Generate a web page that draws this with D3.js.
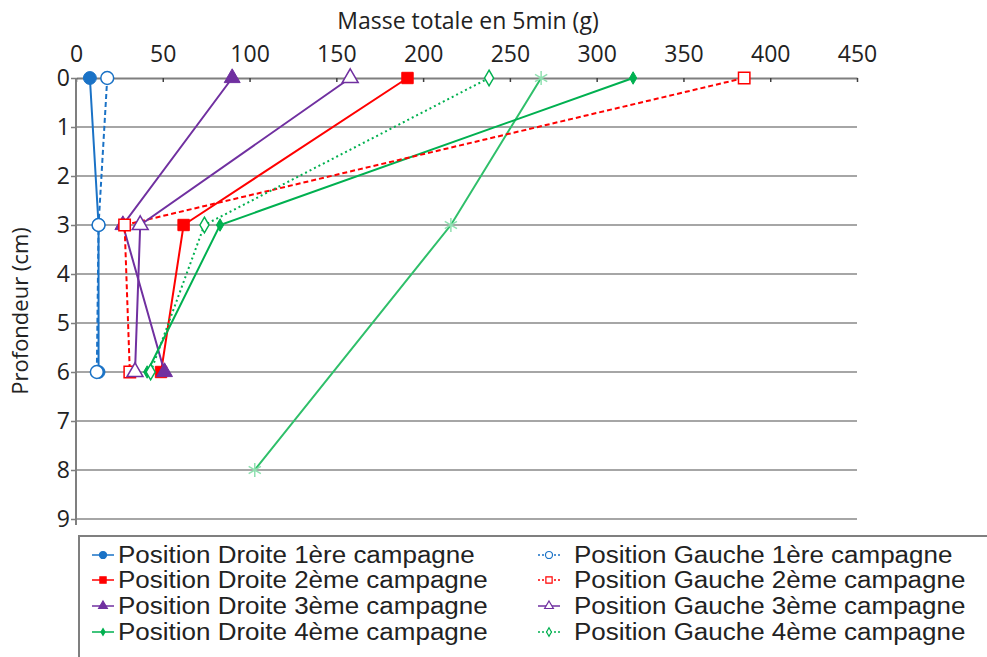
<!DOCTYPE html>
<html>
<head>
<meta charset="utf-8">
<script src="https://cdn.jsdelivr.net/npm/d3@7"></script>
<style>
  body { margin: 0; background: #fff; }
  svg { display: block; }
</style>
</head>
<body>
<svg width="987" height="657"></svg>
<script>
const width = 987;
const height = 657;

// depths (cm) and masses (g)
const depths = [0, 3, 6];
const droite1 = [8, 13, 13];
const gauche1 = [18, 13, 12];
const droite2 = [191, 62, 49];
const gauche2 = [385, 28, 31];
const droite3 = [90, 27, 51];
const gauche3 = [158, 37, 34];
const droite4 = [321, 83, 41];
const gauche4 = [238, 74, 43];
const extraDepths = [0, 3, 8];
const extra = [268, 216, 103];

const xTicks = [0, 50, 100, 150, 200, 250, 300, 350, 400, 450];
const yTicks = [0, 1, 2, 3, 4, 5, 6, 7, 8, 9];

const series = [
  { name: "Position Droite 1ère campagne", v: droite1, d: depths, color: "#1a72c6", shape: "circle", fill: true, dash: null },
  { name: "Position Droite 2ème campagne", v: droite2, d: depths, color: "#ff0000", shape: "square", fill: true, dash: null },
  { name: "Position Droite 3ème campagne", v: droite3, d: depths, color: "#7030a0", shape: "triangle", fill: true, dash: null },
  { name: "Position Droite 4ème campagne", v: droite4, d: depths, color: "#00b050", shape: "diamond", fill: true, dash: null },
  { name: "Position Gauche 1ère campagne", v: gauche1, d: depths, color: "#1a72c6", shape: "circle", fill: false, dash: "5,3" },
  { name: "Position Gauche 2ème campagne", v: gauche2, d: depths, color: "#ff0000", shape: "square", fill: false, dash: "5,3" },
  { name: "Position Gauche 3ème campagne", v: gauche3, d: depths, color: "#7030a0", shape: "triangle", fill: false, dash: null },
  { name: "Position Gauche 4ème campagne", v: gauche4, d: depths, color: "#00b050", shape: "diamond", fill: false, dash: "2,3" }
];
const extraSeries = { v: extra, d: extraDepths, color: "#2fbf6a", marker: "#8fe0b0" };

const x = d3.scaleLinear().domain([0, 450]).range([76, 857]);
const y = d3.scaleLinear().domain([0, 9]).range([78, 519]);

const svg = d3.select("svg");
const font = "'Open Sans', sans-serif";

// grid
svg.append("g")
  .selectAll("line")
  .data(yTicks.slice(1))
  .join("line")
  .attr("x1", x(0)).attr("x2", x(450))
  .attr("y1", d => y(d)).attr("y2", d => y(d))
  .attr("stroke", "#a6a6a6").attr("stroke-width", 2);

// top axis
const xAxis = svg.append("g")
  .attr("transform", `translate(0,${y(0)})`)
  .call(d3.axisTop(x).tickValues(xTicks).tickSizeOuter(0).tickSizeInner(-5));
xAxis.select(".domain").attr("stroke", "#7f7f7f").attr("stroke-width", 2);
xAxis.selectAll(".tick line").attr("stroke", "#404040").attr("stroke-width", 1.5).attr("y2", 4);
xAxis.selectAll(".tick text")
  .attr("y", -16)
  .attr("font-family", font).attr("font-size", 23).attr("fill", "#222");

// left axis
const yAxis = svg.append("g")
  .attr("transform", `translate(${x(0)},0)`)
  .call(d3.axisLeft(y).tickValues(yTicks).tickSizeOuter(0).tickSize(5));
yAxis.select(".domain").attr("stroke", "#7f7f7f").attr("stroke-width", 2)
  .attr("d", `M0,${y(0)}V${y(9) + 6}`);
yAxis.selectAll(".tick line").attr("stroke", "#7f7f7f").attr("stroke-width", 1.5);
yAxis.selectAll(".tick text")
  .attr("x", -6)
  .attr("font-family", font).attr("font-size", 23).attr("fill", "#222");

// titles
svg.append("text")
  .attr("x", 468).attr("y", 29)
  .attr("text-anchor", "middle")
  .attr("font-family", font).attr("font-size", 23).attr("fill", "#222")
  .text("Masse totale en 5min (g)");
svg.append("text")
  .attr("transform", `translate(28,311) rotate(-90)`)
  .attr("text-anchor", "middle")
  .attr("font-family", font).attr("font-size", 22).attr("fill", "#222")
  .text("Profondeur (cm)");

const line = d3.line().x(p => x(p[0])).y(p => y(p[1]));

function symbolFor(shape) {
  return { circle: d3.symbolCircle, square: d3.symbolSquare, triangle: d3.symbolTriangle, diamond: d3.symbolDiamond }[shape];
}
function sizeFor(s) {
  if (s.shape === "diamond") return s.fill ? 45 : 70;
  if (s.shape === "triangle") return 110;
  return 130;
}

// extra series (asterisk marker)
svg.append("path")
  .attr("d", line(extraSeries.v.map((v, i) => [v, extraSeries.d[i]])))
  .attr("fill", "none").attr("stroke", extraSeries.color).attr("stroke-width", 2);
svg.append("g")
  .selectAll("path")
  .data(extraSeries.v.map((v, i) => [v, extraSeries.d[i]]))
  .join("path")
  .attr("transform", p => `translate(${x(p[0])},${y(p[1])})`)
  .attr("d", d3.symbol(d3.symbolAsterisk, 140)())
  .attr("fill", "none").attr("stroke", extraSeries.marker).attr("stroke-width", 1.5);

// series lines
const plot = svg.append("g");
series.forEach(s => {
  const pts = s.v.map((v, i) => [v, s.d[i]]);
  plot.append("path")
    .attr("d", line(pts))
    .attr("fill", "none")
    .attr("stroke", s.color)
    .attr("stroke-width", 2)
    .attr("stroke-dasharray", s.dash);
});
series.forEach(s => {
  const pts = s.v.map((v, i) => [v, s.d[i]]);
  plot.append("g")
    .selectAll("path")
    .data(pts)
    .join("path")
    .attr("transform", p => `translate(${x(p[0])},${y(p[1])})`)
    .attr("d", d3.symbol(symbolFor(s.shape), sizeFor(s))())
    .attr("fill", s.fill ? s.color : "#fff")
    .attr("stroke", s.color)
    .attr("stroke-width", s.fill ? 1 : 1.5);
});

// legend
const legend = svg.append("g");
legend.append("rect")
  .attr("x", 79).attr("y", 536).attr("width", 920).attr("height", 140)
  .attr("fill", "#fff").attr("stroke", "#7f7f7f").attr("stroke-width", 2);

const rowY = [555, 580, 606, 632];
series.forEach((s, i) => {
  const col = Math.floor(i / 4);
  const row = i % 4;
  const mx = col === 0 ? 103 : 549;
  const tx = col === 0 ? 118 : 574;
  const g = legend.append("g").attr("transform", `translate(0,${rowY[row]})`);
  g.append("line")
    .attr("x1", mx - 11).attr("x2", mx + 11)
    .attr("stroke", s.color).attr("stroke-width", 1.5)
    .attr("stroke-dasharray", s.dash ? "2,2" : null);
  g.append("path")
    .attr("transform", `translate(${mx},0)`)
    .attr("d", d3.symbol(symbolFor(s.shape), sizeFor(s) * 0.3)())
    .attr("fill", s.fill ? s.color : "#fff")
    .attr("stroke", s.color).attr("stroke-width", 1.2);
  g.append("text")
    .attr("transform", `translate(${tx},0) scale(1.13,1)`)
    .attr("dy", "0.35em")
    .attr("font-family", "'Liberation Sans', Arial, sans-serif")
    .attr("font-size", 23).attr("fill", "#222")
    .text(s.name);
});
</script>
</body>
</html>
